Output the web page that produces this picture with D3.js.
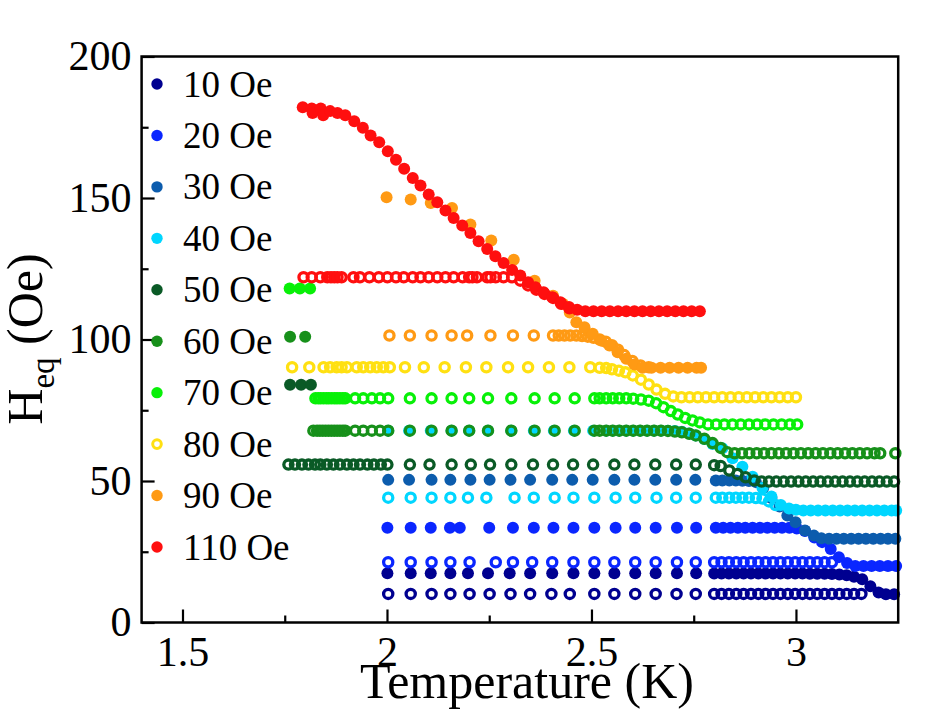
<!DOCTYPE html>
<html>
<head>
<meta charset="utf-8">
<script src="https://cdn.jsdelivr.net/npm/d3@7"></script>
<style>
  body { margin: 0; background: #fff; }
  svg text { font-family: "Liberation Serif", "Times New Roman", serif; fill: #000; }
</style>
</head>
<body>
<svg width="946" height="709"></svg>
<script>
// legend / field values
const fields      = ["10 Oe", "20 Oe", "30 Oe", "40 Oe", "50 Oe", "60 Oe", "70 Oe", "80 Oe", "90 Oe", "110 Oe"];
const fieldColors = ["#000090", "#0a26ff", "#0c5cad", "#00d6ff", "#0a5a26", "#17901a", "#08f008", "#ffe012", "#ff9a14", "#ff0f0f"];
const legendOpen  = ["80 Oe"];

const xTicks = [1.5, 2, 2.5, 3];
const xMinor = [1.75, 2.25, 2.75];
const yTicks = [0, 50, 100, 150, 200];
const yMinor = [25, 75, 125, 175];

// [T (K), Heq (Oe)]
const navy10Open = [[2.003,10.1],[2.058,10.1],[2.109,10.1],[2.155,10.1],[2.202,10.1],[2.251,10.1],[2.302,10.1],[2.350,10.1],[2.402,10.1],[2.447,10.1],[2.507,10.1],[2.556,10.1],[2.607,10.1],[2.657,10.1],[2.708,10.1],[2.755,10.1],[2.800,10.1],[2.818,10.1],[2.836,10.1],[2.854,10.1],[2.872,10.1],[2.890,10.1],[2.908,10.1],[2.926,10.1],[2.944,10.1],[2.962,10.1],[2.980,10.1],[2.998,10.1],[3.016,10.1],[3.034,10.1],[3.052,10.1],[3.070,10.1],[3.088,10.1],[3.106,10.1],[3.124,10.1],[3.142,10.1],[3.160,10.1]];
const navy10Filled = [[2.001,17.4],[2.058,17.4],[2.107,17.4],[2.155,17.4],[2.198,17.4],[2.247,17.4],[2.300,17.4],[2.350,17.4],[2.404,17.4],[2.456,17.4],[2.507,17.4],[2.556,17.4],[2.607,17.4],[2.657,17.4],[2.709,17.4],[2.756,17.4],[2.800,17.3],[2.818,17.3],[2.836,17.3],[2.854,17.3],[2.872,17.3],[2.890,17.3],[2.908,17.3],[2.926,17.3],[2.944,17.3],[2.962,17.3],[2.980,17.3],[2.998,17.3],[3.016,17.3],[3.034,17.2],[3.052,17.2],[3.070,17.2],[3.088,17.1],[3.106,17.0],[3.124,16.7],[3.142,16.2],[3.162,15.3],[3.182,12.8],[3.202,10.6],[3.220,10.0],[3.240,10.0]];
const blue20Open = [[2.003,21.3],[2.058,21.3],[2.109,21.3],[2.155,21.3],[2.202,21.3],[2.266,21.3],[2.308,21.3],[2.355,21.3],[2.404,21.3],[2.456,21.3],[2.507,21.3],[2.556,21.3],[2.607,21.3],[2.657,21.3],[2.709,21.3],[2.755,21.3],[2.800,21.3],[2.818,21.3],[2.836,21.3],[2.854,21.3],[2.872,21.3],[2.890,21.3],[2.908,21.3],[2.926,21.3],[2.944,21.3],[2.962,21.3],[2.980,21.3],[2.998,21.3],[3.016,21.3],[3.034,21.3],[3.052,21.3],[3.070,21.3],[3.088,21.3]];
const blue20Filled = [[2.001,33.5],[2.058,33.5],[2.107,33.5],[2.154,33.5],[2.178,33.5],[2.250,33.5],[2.308,33.5],[2.359,33.5],[2.407,33.5],[2.456,33.5],[2.507,33.5],[2.559,33.5],[2.607,33.5],[2.657,33.5],[2.709,33.5],[2.756,33.5],[2.804,33.5],[2.822,33.5],[2.840,33.5],[2.858,33.5],[2.876,33.5],[2.894,33.5],[2.912,33.5],[2.930,33.5],[2.948,33.5],[2.966,33.5],[2.984,33.5],[3.002,33.2],[3.022,32.3],[3.045,30.0],[3.064,28.4],[3.085,26.0],[3.105,23.1],[3.125,21.0],[3.145,20.0],[3.165,20.0],[3.185,20.0],[3.205,20.0],[3.225,20.0],[3.245,20.0]];
const steel30Filled = [[2.003,50.4],[2.054,50.4],[2.109,50.4],[2.155,50.4],[2.204,50.4],[2.251,50.4],[2.302,50.4],[2.350,50.4],[2.404,50.4],[2.453,50.4],[2.503,50.4],[2.556,50.4],[2.605,50.4],[2.656,50.4],[2.707,50.4],[2.754,50.4],[2.804,50.2],[2.820,50.2],[2.837,50.2],[2.853,50.2],[2.869,50.1],[2.885,50.0],[2.902,49.6],[2.920,47.5],[2.940,44.0],[2.960,41.0],[2.979,37.8],[2.999,35.4],[3.022,32.5],[3.044,30.7],[3.062,29.8],[3.081,29.6],[3.099,29.6],[3.117,29.6],[3.135,29.6],[3.153,29.6],[3.171,29.6],[3.189,29.6],[3.207,29.6],[3.225,29.6],[3.243,29.6]];
const cyan40Open = [[2.003,44.1],[2.058,44.1],[2.109,44.1],[2.155,44.1],[2.198,44.1],[2.243,44.1],[2.312,44.1],[2.359,44.1],[2.410,44.1],[2.456,44.1],[2.507,44.1],[2.559,44.1],[2.607,44.1],[2.659,44.1],[2.707,44.1],[2.755,44.1],[2.804,44.1],[2.820,44.1],[2.837,44.1],[2.853,44.1],[2.869,44.1],[2.885,44.1],[2.902,44.0],[2.918,43.8],[2.934,42.8],[2.950,41.5]];
const cyan40Filled = [[2.003,67.8],[2.054,67.8],[2.107,67.8],[2.158,67.8],[2.201,67.8],[2.247,67.8],[2.304,67.8],[2.359,67.8],[2.408,67.8],[2.457,67.8],[2.504,67.8],[2.536,67.8],[2.552,67.8],[2.568,67.8],[2.585,67.8],[2.602,67.8],[2.619,67.8],[2.636,67.8],[2.653,67.8],[2.670,67.8],[2.687,67.8],[2.704,67.7],[2.721,67.4],[2.739,66.8],[2.755,66.1],[2.776,64.8],[2.796,63.1],[2.820,61.6],[2.845,58.0],[2.869,55.0],[2.894,51.5],[2.918,47.5],[2.940,44.5],[2.963,41.5],[2.983,40.3],[3.000,39.8],[3.018,39.6],[3.036,39.6],[3.054,39.6],[3.072,39.6],[3.090,39.6],[3.108,39.6],[3.126,39.6],[3.144,39.6],[3.162,39.6],[3.180,39.6],[3.198,39.6],[3.216,39.6],[3.234,39.6],[3.245,39.6]];
const dkgreen50Open = [[1.759,55.8],[1.775,55.8],[1.792,55.8],[1.808,55.8],[1.824,55.8],[1.837,55.8],[1.853,55.8],[1.869,55.8],[1.885,55.8],[1.902,55.8],[1.918,55.8],[1.934,55.8],[1.952,55.8],[1.968,55.8],[1.985,55.8],[2.001,55.8],[2.056,55.8],[2.104,55.8],[2.158,55.8],[2.205,55.8],[2.252,55.8],[2.304,55.8],[2.357,55.8],[2.406,55.8],[2.455,55.8],[2.504,55.8],[2.556,55.8],[2.605,55.8],[2.656,55.8],[2.707,55.8],[2.755,55.8],[2.800,55.6],[2.816,55.3],[2.837,53.7],[2.857,52.5],[2.877,51.3],[2.898,50.2],[2.916,49.8],[2.934,49.8],[2.952,49.8],[2.970,49.8],[2.988,49.8],[3.006,49.8],[3.024,49.8],[3.042,49.8],[3.060,49.8],[3.078,49.8],[3.096,49.8],[3.114,49.8],[3.132,49.8],[3.150,49.8],[3.168,49.8],[3.186,49.8],[3.204,49.8],[3.222,49.8],[3.240,49.8]];
const dkgreen50Filled = [[1.763,84],[1.790,84],[1.814,84]];
const green60Open = [[1.820,67.8],[1.829,67.8],[1.836,67.8],[1.843,67.8],[1.850,67.8],[1.857,67.8],[1.864,67.8],[1.871,67.8],[1.878,67.8],[1.885,67.8],[1.892,67.8],[1.898,67.8],[1.922,67.8],[1.942,67.8],[1.963,67.8],[1.983,67.8],[2.003,67.8],[2.056,67.8],[2.109,67.8],[2.158,67.8],[2.201,67.8],[2.247,67.8],[2.304,67.8],[2.361,67.8],[2.410,67.8],[2.459,67.8],[2.507,67.8],[2.520,67.8],[2.536,67.8],[2.552,67.8],[2.568,67.8],[2.585,67.8],[2.602,67.8],[2.619,67.8],[2.636,67.8],[2.653,67.8],[2.670,67.8],[2.687,67.7],[2.704,67.5],[2.721,67.2],[2.739,66.7],[2.755,66.1],[2.776,64.9],[2.796,63.4],[2.816,61.7],[2.832,60.2],[2.850,59.8],[2.868,59.8],[2.886,59.8],[2.904,59.8],[2.922,59.8],[2.940,59.8],[2.958,59.8],[2.976,59.8],[2.994,59.8],[3.012,59.8],[3.030,59.8],[3.048,59.8],[3.066,59.8],[3.084,59.8],[3.102,59.8],[3.120,59.8],[3.138,59.8],[3.156,59.8],[3.174,59.8],[3.192,59.8],[3.206,59.8],[3.243,59.8]];
const green60Filled = [[1.763,101],[1.800,101]];
const lime70Open = [[1.825,79.2],[1.832,79.2],[1.838,79.2],[1.845,79.2],[1.852,79.2],[1.858,79.2],[1.865,79.2],[1.872,79.2],[1.878,79.2],[1.885,79.2],[1.892,79.2],[1.898,79.2],[1.922,79.2],[1.942,79.2],[1.963,79.2],[1.983,79.2],[2.003,79.2],[2.056,79.2],[2.109,79.2],[2.158,79.2],[2.201,79.2],[2.247,79.2],[2.304,79.2],[2.361,79.2],[2.410,79.2],[2.459,79.2],[2.507,79.2],[2.520,79.2],[2.536,79.2],[2.552,79.2],[2.568,79.2],[2.585,79.2],[2.602,79.1],[2.621,78.8],[2.640,78.4],[2.658,77.5],[2.676,76.1],[2.694,74.7],[2.711,73.5],[2.729,72.3],[2.747,71.4],[2.765,70.7],[2.785,70],[2.805,70],[2.825,70],[2.845,70],[2.865,70],[2.885,70],[2.905,70],[2.925,70],[2.945,70],[2.965,70],[2.985,70],[3.003,70]];
const lime70Filled = [[1.762,118],[1.787,118],[1.812,118]];
const yellow80Open = [[1.768,90.2],[1.810,90.2],[1.845,90.2],[1.861,90.2],[1.877,90.2],[1.889,90.2],[1.902,90.2],[1.926,90.2],[1.942,90.2],[1.959,90.2],[1.975,90.2],[1.991,90.2],[2.007,90.2],[2.044,90.2],[2.090,90.2],[2.141,90.2],[2.193,90.2],[2.243,90.2],[2.296,90.2],[2.345,90.2],[2.396,90.2],[2.446,90.2],[2.497,90.2],[2.520,90.0],[2.536,89.9],[2.550,89.5],[2.567,89.0],[2.583,88.4],[2.601,87.3],[2.621,85.8],[2.640,84.1],[2.659,82.3],[2.680,80.8],[2.700,79.9],[2.720,79.6],[2.740,79.6],[2.760,79.6],[2.780,79.6],[2.800,79.6],[2.820,79.6],[2.840,79.6],[2.860,79.6],[2.880,79.6],[2.900,79.6],[2.920,79.6],[2.940,79.6],[2.960,79.6],[2.980,79.6],[3.000,79.6]];
const orange90Open = [[2.006,101.4],[2.056,101.4],[2.109,101.4],[2.158,101.4],[2.196,101.4],[2.253,101.4],[2.308,101.4],[2.359,101.4],[2.406,101.4],[2.420,101.4],[2.434,101.4],[2.448,101.4],[2.463,101.4],[2.477,101.2],[2.491,101.0],[2.505,100.6],[2.520,100.0],[2.535,99.2],[2.550,98.0],[2.565,96.4],[2.580,94.5],[2.600,92.4],[2.620,90.8],[2.640,90.2]];
const orange90Filled = [[1.999,150.3],[2.058,149.5],[2.107,148.2],[2.159,146.5],[2.204,140.6],[2.255,135.0],[2.310,128.2],[2.361,120.8],[2.406,115.5],[2.430,112.6],[2.447,109.5],[2.463,106.1],[2.483,104.3],[2.503,102.0],[2.524,99.6],[2.544,97.9],[2.564,95.5],[2.585,93.2],[2.605,91.2],[2.625,90],[2.647,90],[2.669,90],[2.691,90],[2.713,90],[2.735,90],[2.757,90],[2.768,90]];
const red110Open = [[1.796,122],[1.816,122],[1.837,122],[1.854,122],[1.863,122],[1.871,122],[1.879,122],[1.889,122],[1.918,122],[1.934,122],[1.957,122],[1.980,122],[2.001,122],[2.022,122],[2.041,122],[2.063,122],[2.082,122],[2.102,122],[2.123,122],[2.143,122],[2.163,122],[2.185,122],[2.201,122],[2.209,122],[2.220,122],[2.245,122],[2.253,122],[2.266,122],[2.285,122],[2.306,122],[2.326,120.8],[2.345,119.1],[2.365,117.6],[2.385,116.1],[2.406,114.7],[2.426,112.6],[2.446,111.0]];
const red110Filled = [[1.794,182.1],[1.816,181.6],[1.818,180.0],[1.838,181.6],[1.844,179.2],[1.861,180.7],[1.879,180.0],[1.898,179.2],[1.920,177.1],[1.941,174.8],[1.960,172.1],[1.981,169.7],[2.002,166.5],[2.022,163.5],[2.042,160.3],[2.063,157.1],[2.082,154.4],[2.102,151.2],[2.123,148.5],[2.143,145.6],[2.163,142.9],[2.184,140.3],[2.204,137.6],[2.224,134.7],[2.245,132.0],[2.265,129.4],[2.285,127.0],[2.306,124.6],[2.326,122.6],[2.345,120.2],[2.363,118.5],[2.383,116.7],[2.404,114.9],[2.424,113.2],[2.445,111.5],[2.465,110.5],[2.485,110],[2.505,110],[2.525,110],[2.545,110],[2.565,110],[2.585,110],[2.605,110],[2.625,110],[2.645,110],[2.665,110],[2.685,110],[2.705,110],[2.725,110],[2.745,110],[2.765,110]];

// drawing order: low field first, open before filled
const series = [
  { field: "10 Oe",  open: true,  data: navy10Open },
  { field: "10 Oe",  open: false, data: navy10Filled },
  { field: "20 Oe",  open: true,  data: blue20Open },
  { field: "20 Oe",  open: false, data: blue20Filled },
  { field: "30 Oe",  open: false, data: steel30Filled },
  { field: "40 Oe",  open: true,  data: cyan40Open },
  { field: "40 Oe",  open: false, data: cyan40Filled },
  { field: "50 Oe",  open: true,  data: dkgreen50Open },
  { field: "50 Oe",  open: false, data: dkgreen50Filled },
  { field: "60 Oe",  open: true,  data: green60Open },
  { field: "60 Oe",  open: false, data: green60Filled },
  { field: "70 Oe",  open: true,  data: lime70Open },
  { field: "70 Oe",  open: false, data: lime70Filled },
  { field: "80 Oe",  open: true,  data: yellow80Open },
  { field: "90 Oe",  open: true,  data: orange90Open },
  { field: "90 Oe",  open: false, data: orange90Filled },
  { field: "110 Oe", open: true,  data: red110Open },
  { field: "110 Oe", open: false, data: red110Filled },
];

const svg = d3.select("svg");

const x = d3.scaleLinear().domain([1.4, 3.25]).range([141.6, 898.2]);
const y = d3.scaleLinear().domain([0, 200]).range([622.5, 56.5]);
const color = d3.scaleOrdinal().domain(fields).range(fieldColors);

const drawAxes = () => {
  const xAxis = svg.append("g")
    .attr("transform", `translate(0, ${y(0)})`)
    .call(d3.axisBottom(x).tickValues(xTicks).tickSizeInner(-13).tickSizeOuter(0)
      .tickPadding(10).tickFormat(d3.format("")));
  xAxis.selectAll("text").attr("font-size", 42).attr("dy", "0.8em");

  svg.append("g")
    .attr("transform", `translate(0, ${y(0)})`)
    .call(d3.axisBottom(x).tickValues(xMinor).tickSizeInner(-7).tickSizeOuter(0).tickFormat(""));

  const yAxis = svg.append("g")
    .attr("transform", `translate(${x(1.4)}, 0)`)
    .call(d3.axisLeft(y).tickValues(yTicks).tickSizeInner(-13).tickSizeOuter(0).tickPadding(10));
  yAxis.selectAll("text").attr("font-size", 42);

  svg.append("g")
    .attr("transform", `translate(${x(1.4)}, 0)`)
    .call(d3.axisLeft(y).tickValues(yMinor).tickSizeInner(-7).tickSizeOuter(0).tickFormat(""));

  svg.selectAll(".domain").remove();
  svg.selectAll(".tick line").attr("stroke", "#000").attr("stroke-width", 2.2);

  svg.append("rect")
    .attr("x", x(1.4)).attr("y", y(200))
    .attr("width", x(3.25) - x(1.4)).attr("height", y(0) - y(200))
    .attr("fill", "none").attr("stroke", "#000").attr("stroke-width", 2.5);

  svg.append("text")
    .attr("x", 527).attr("y", 698)
    .attr("text-anchor", "middle").attr("font-size", 50)
    .text("Temperature (K)");

  const yl = svg.append("text")
    .attr("transform", "translate(42, 339) rotate(-90)")
    .attr("text-anchor", "middle").attr("font-size", 50);
  yl.append("tspan").text("H");
  yl.append("tspan").attr("font-size", 33).attr("dy", 12).text("eq");
  yl.append("tspan").attr("dy", -12).text(" (Oe)");
};

const drawPoints = () => {
  const g = svg.append("g");
  series.forEach(s => {
    g.append("g").selectAll("circle")
      .data(s.data)
      .join("circle")
        .attr("cx", d => x(d[0]))
        .attr("cy", d => y(d[1]))
        .attr("r", s.open ? 4.6 : 6)
        .attr("fill", s.open ? "none" : color(s.field))
        .attr("stroke", s.open ? color(s.field) : "none")
        .attr("stroke-width", 3.3);
  });
};

const drawLegend = () => {
  const ly = d3.scalePoint().domain(fields).range([84, 547]);
  const item = svg.append("g").selectAll("g")
    .data(fields)
    .join("g")
      .attr("transform", d => `translate(157, ${ly(d)})`);

  item.append("circle")
    .attr("r", d => legendOpen.includes(d) ? 4.3 : 5.7)
    .attr("fill", d => legendOpen.includes(d) ? "none" : color(d))
    .attr("stroke", d => legendOpen.includes(d) ? color(d) : "none")
    .attr("stroke-width", 3);

  item.append("text")
    .attr("x", 26).attr("y", 12.5)
    .attr("font-size", 37)
    .text(d => d);
};

drawPoints();
drawAxes();
drawLegend();
</script>
</body>
</html>
